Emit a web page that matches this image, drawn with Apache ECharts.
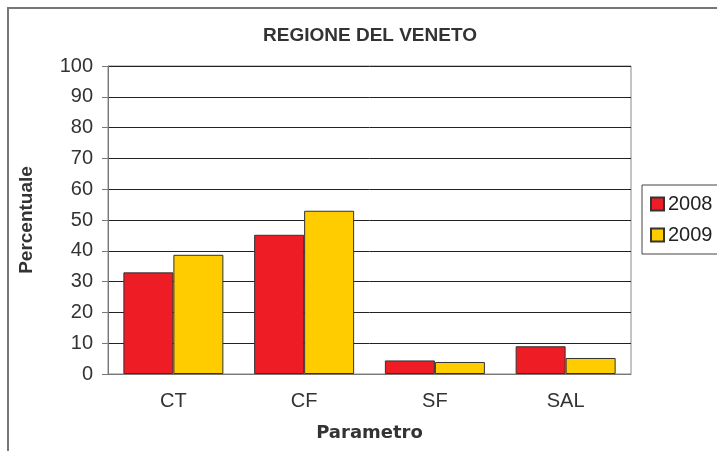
<!DOCTYPE html>
<html>
<head>
<meta charset="utf-8">
<script src="https://cdn.jsdelivr.net/npm/echarts@6/dist/echarts.min.js"></script>
<style>
  html, body { margin: 0; padding: 0; background: #fff; }
  #chart { width: 717px; height: 451px; }
</style>
</head>
<body>
<div id="chart"></div>
<script>
var categories = ['CT', 'CF', 'SF', 'SAL'];
var values2008 = [33, 45.2, 4.4, 9];
var values2009 = [38.7, 53, 3.9, 5.2];
var yTicks = [0, 10, 20, 30, 40, 50, 60, 70, 80, 90, 100];

var chart = echarts.init(document.getElementById('chart'));
var font = '"Liberation Sans", Arial, sans-serif';
var option = {
    animation: false,
    backgroundColor: '#fff',
    title: {
        text: 'REGIONE DEL VENETO',
        left: 365,
        textAlign: 'center',
        top: 21,
        textStyle: { fontFamily: font, fontSize: 19, fontWeight: 'bold', color: '#333' }
    },
    graphic: [{
        type: 'rect',
        shape: { x: 8, y: 8, width: 800, height: 600 },
        style: { fill: 'none', stroke: '#777', lineWidth: 2 },
        silent: true
    }],
    legend: {
        orient: 'vertical',
        left: 642,
        top: 185,
        padding: [9, 10, 9, 8],
        itemWidth: 13,
        itemHeight: 13,
        itemGap: 11,
        borderColor: '#444',
        borderWidth: 1,
        icon: 'rect',
        data: ['2008', '2009'],
        textStyle: { fontFamily: font, fontSize: 20, color: '#222', padding: [0, 0, 0, -1] }
    },
    grid: {
        left: 108, right: 86, top: 66, bottom: 77,
        show: true, borderColor: '#888', borderWidth: 1
    },
    xAxis: {
        type: 'category',
        data: categories,
        name: 'Parametro',
        nameLocation: 'middle',
        nameGap: 50,
        nameTextStyle: { fontFamily: '"DejaVu Sans", sans-serif', fontSize: 18, fontWeight: 'bold', color: '#333' },
        axisLine: { lineStyle: { color: '#777' } },
        axisTick: { length: 5, lineStyle: { color: '#777' } },
        axisLabel: { fontFamily: font, fontSize: 20, color: '#333', margin: 17 }
    },
    yAxis: {
        type: 'value',
        min: yTicks[0],
        max: yTicks[yTicks.length - 1],
        interval: 10,
        name: 'Percentuale',
        nameLocation: 'middle',
        nameGap: 72,
        nameTextStyle: { fontFamily: font, fontSize: 19, fontWeight: 'bold', color: '#333' },
        axisLine: { show: true, lineStyle: { color: '#777' } },
        axisTick: { show: true, length: 6, lineStyle: { color: '#777' } },
        axisLabel: { fontFamily: font, fontSize: 20, color: '#333', margin: 15 },
        splitLine: { lineStyle: { color: '#222', width: 1 } }
    },
    series: [{
        name: '2008',
        type: 'bar',
        data: values2008,
        barWidth: 50,
        barGap: '0%',
        itemStyle: { color: '#ee1c25', borderColor: '#333', borderWidth: 1 }
    }, {
        name: '2009',
        type: 'bar',
        data: values2009,
        barWidth: 50,
        itemStyle: { color: '#ffcc00', borderColor: '#333', borderWidth: 1 }
    }]
};
chart.setOption(option);
</script>
</body>
</html>
